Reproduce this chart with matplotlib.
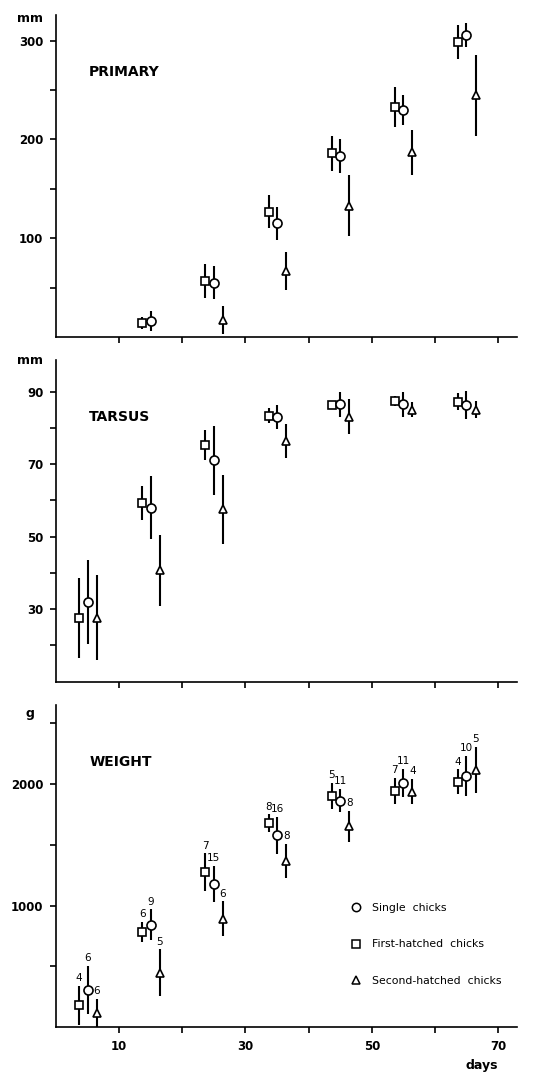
import numpy as np
import matplotlib.pyplot as plt
from matplotlib.lines import Line2D

plt.rcParams['font.family'] = ['DejaVu Sans']

days = [5, 15, 25, 35, 45, 55, 65]

# PRIMARY (mm) - no data at day 5, no second-hatched at day 15
prim_single = [16, 55, 115, 183, 230, 306]
prim_single_sd = [10, 17, 17, 17, 15, 12]
prim_first = [14, 57, 127, 186, 233, 299]
prim_first_sd = [6, 17, 17, 18, 20, 17]
prim_second = [17, 67, 133, 187, 245]
prim_second_sd = [14, 19, 31, 23, 41]

# TARSUS (mm)
tars_single = [32, 58, 71, 83, 86.5, 86.5, 86.3]
tars_single_sd = [11.7, 8.7, 9.6, 3.3, 3.5, 3.5, 3.8]
tars_first = [27.5, 59.3, 75.3, 83.4, 86.3, 87.4, 87.2]
tars_first_sd = [11, 4.6, 4.2, 2, 1.2, 1.4, 2.3]
tars_second = [27.7, 40.7, 57.5, 76.4, 83.1, 85, 85]
tars_second_sd = [11.7, 9.8, 9.6, 4.7, 4.8, 2, 2.3]

# WEIGHT (g)
wt_single = [306, 844, 1178, 1577, 1863, 2005, 2066]
wt_single_sd = [198, 125, 146, 150, 93, 116, 164]
wt_first = [180, 781, 1273, 1678, 1902, 1943, 2019]
wt_first_sd = [160, 82, 155, 71, 109, 106, 100]
wt_second = [120, 448, 891, 1369, 1650, 1937, 2115]
wt_second_sd = [115, 191, 143, 140, 131, 105, 190]

# sample sizes (weight panel)
n_single = [6, 9, 15, 16, 11, 11, 10]
n_first = [4, 6, 7, 8, 5, 7, 4]
n_second = [6, 5, 6, 8, 8, 4, 5]

legend_labels = ['Single  chicks', 'First-hatched  chicks', 'Second-hatched  chicks']

# marker style and x offset for each group
styles = {
    'single': dict(marker='o', ms=6.5, dx=0.0),
    'first': dict(marker='s', ms=5.5, dx=-1.35),
    'second': dict(marker='^', ms=6.0, dx=1.45),
}

fig = plt.figure(figsize=(5.37, 10.75), dpi=100)
left, width = 56 / 537, 461 / 537
ax1 = fig.add_axes([left, 0.6865, width, 0.2995])
ax2 = fig.add_axes([left, 0.3658, width, 0.2993])
ax3 = fig.add_axes([left, 0.0444, width, 0.2998])


def draw(ax, key, x, y, sd, labels=None):
    st = styles[key]
    xs = np.array(x) + st['dx']
    ax.errorbar(xs, y, yerr=sd, fmt=st['marker'], ms=st['ms'], mfc='white',
                mec='black', mew=1.2, ecolor='black', elinewidth=1.5,
                capsize=0, zorder=3)
    if labels is not None:
        for xi, yi, si, n in zip(xs, y, sd, labels):
            ax.annotate(str(n), (xi, yi + si), xytext=(0, 2), textcoords='offset points',
                        ha='center', va='bottom', fontsize=7.5)


draw(ax1, 'first', days[1:], prim_first, prim_first_sd)
draw(ax1, 'single', days[1:], prim_single, prim_single_sd)
draw(ax1, 'second', days[2:], prim_second, prim_second_sd)

draw(ax2, 'first', days, tars_first, tars_first_sd)
draw(ax2, 'single', days, tars_single, tars_single_sd)
draw(ax2, 'second', days, tars_second, tars_second_sd)

draw(ax3, 'first', days, wt_first, wt_first_sd, n_first)
draw(ax3, 'single', days, wt_single, wt_single_sd, n_single)
draw(ax3, 'second', days, wt_second, wt_second_sd, n_second)

panels = [
    (ax1, 'PRIMARY', 'mm', (0, 326), [100, 200, 300], [50, 150, 250], 0.99),
    (ax2, 'TARSUS', 'mm', (10, 98.7), [30, 50, 70, 90], [20, 40, 60, 80], 1.0),
    (ax3, 'WEIGHT', 'g', (0, 2648), [1000, 2000], [500, 1500, 2500], 0.975),
]
for ax, title, unit, ylim, yt, ymin, uy in panels:
    ax.set_xlim(0, 73)
    ax.set_ylim(*ylim)
    ax.set_yticks(yt)
    ax.set_yticks(ymin, minor=True)
    ax.set_xticks(range(10, 80, 10))
    for s in ['top', 'right']:
        ax.spines[s].set_visible(False)
    for s in ['left', 'bottom']:
        ax.spines[s].set_linewidth(1.2)
    ax.tick_params(which='both', direction='out', length=4, width=1.2, pad=5)
    ax.set_yticklabels([str(v) for v in yt], fontsize=8.5, fontweight='bold')
    ax.text(0.072, 0.822, title, transform=ax.transAxes, fontsize=10,
            fontweight='bold', va='center', ha='left')
    ax.text(-0.056, uy, unit, transform=ax.transAxes, fontsize=9,
            fontweight='bold', va='center', ha='center')

ax1.set_xticklabels([])
ax2.set_xticklabels([])
ax3.set_xticklabels(['10', '', '30', '', '50', '', '70'], fontsize=8.5, fontweight='bold')

fig.text(482 / 537, 1 - 1066 / 1075, 'days', fontsize=9, fontweight='bold',
         ha='center', va='center')

handles = [Line2D([], [], ls='none', marker=styles[k]['marker'], ms=6,
                  mfc='white', mec='black', mew=1.1) for k in ['single', 'first', 'second']]
ax3.legend(handles, legend_labels, loc='upper left', bbox_to_anchor=(0.638, 0.386),
           frameon=False, fontsize=7.8, handlelength=1.0, handletextpad=1.0,
           labelspacing=2.45, borderpad=0, borderaxespad=0)

fig.savefig('out.png', dpi=100)
